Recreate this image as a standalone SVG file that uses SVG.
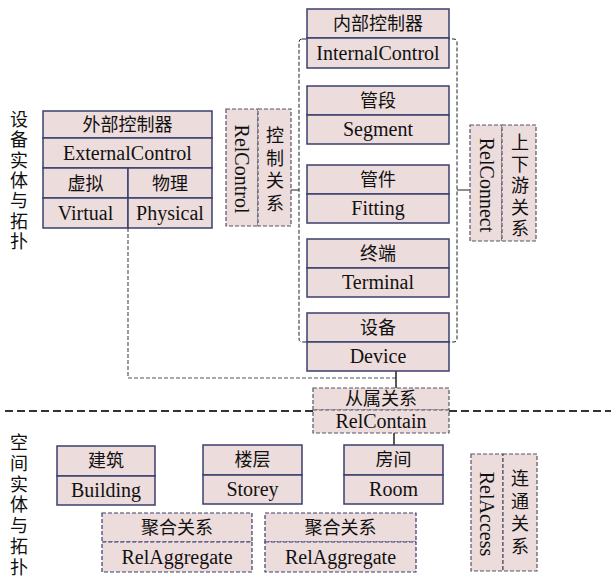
<svg xmlns="http://www.w3.org/2000/svg" width="611" height="579" viewBox="0 0 611 579">
<style>
.n{fill:#EDDCDC;stroke:#3A3F6E;stroke-width:1.5}
.d{fill:#EDDCDC;stroke:#555566;stroke-width:1.2;stroke-dasharray:4 2}
.dl{fill:none;stroke:#555566;stroke-width:1.2;stroke-dasharray:4 2}
.t{font-family:"Liberation Serif","Noto Sans CJK SC",serif;font-size:20px;fill:#111;text-anchor:middle}
.c{font-family:"Noto Sans CJK SC","Liberation Serif",sans-serif;font-size:18px;fill:#111;text-anchor:middle}
</style>
<rect width="611" height="579" fill="#fff"/>
<g id="connectors">
<rect x="299" y="39" width="158" height="303" rx="3" fill="none" stroke="#222" stroke-width="1" stroke-dasharray="4 2"/>
<path d="M128 228V378H396" class="dl"/>
<line x1="291" y1="190" x2="299" y2="190" stroke="#222" stroke-width="1"/>
<line x1="457" y1="190" x2="470" y2="190" stroke="#222" stroke-width="1"/>
<line x1="396" y1="371" x2="396" y2="388" stroke="#222" stroke-width="1.5"/>
<line x1="394" y1="433" x2="394" y2="445" stroke="#222" stroke-width="1.5"/>
<line x1="5" y1="411" x2="611" y2="411" stroke="#333" stroke-width="1.8" stroke-dasharray="8 4"/>
</g>
<g id="label-top">
<text class="c" x="19" y="126">设</text>
<text class="c" x="19" y="146.3">备</text>
<text class="c" x="19" y="166.6">实</text>
<text class="c" x="19" y="186.9">体</text>
<text class="c" x="19" y="207.2">与</text>
<text class="c" x="19" y="227.5">拓</text>
<text class="c" x="19" y="247.8">扑</text>
</g>
<g id="label-bottom">
<text class="c" x="19" y="449">空</text>
<text class="c" x="19" y="469.8">间</text>
<text class="c" x="19" y="490.6">实</text>
<text class="c" x="19" y="511.4">体</text>
<text class="c" x="19" y="532.2">与</text>
<text class="c" x="19" y="553">拓</text>
<text class="c" x="19" y="573.8">扑</text>
</g>
<g id="externalcontrol">
<rect class="n" x="43" y="111" width="169" height="27"/>
<rect class="n" x="43" y="138" width="169" height="30"/>
<rect class="n" x="43" y="168" width="85" height="30"/>
<rect class="n" x="128" y="168" width="84" height="30"/>
<rect class="n" x="43" y="198" width="85" height="30"/>
<rect class="n" x="128" y="198" width="84" height="30"/>
<text class="c" x="127.5" y="131">外部控制器</text>
<text class="t" x="127.5" y="160">ExternalControl</text>
<text class="c" x="85.5" y="190">虚拟</text>
<text class="c" x="170" y="190">物理</text>
<text class="t" x="85.5" y="220">Virtual</text>
<text class="t" x="170" y="220">Physical</text>
</g>
<g id="relcontrol">
<rect class="d" x="226" y="109" width="32" height="117"/>
<rect class="d" x="258" y="109" width="33" height="117"/>
<text class="t" transform="rotate(90 242 169)" x="242" y="176">RelControl</text>
<text class="c" x="275" y="142">控</text>
<text class="c" x="275" y="164.7">制</text>
<text class="c" x="275" y="187.4">关</text>
<text class="c" x="275" y="210.1">系</text>
</g>
<g id="internalcontrol">
<rect class="n" x="307" y="9" width="142" height="29"/>
<rect class="n" x="307" y="38" width="142" height="30"/>
<text class="c" x="378" y="30">内部控制器</text>
<text class="t" x="378" y="60">InternalControl</text>
</g>
<g id="segment">
<rect class="n" x="307" y="86" width="142" height="29"/>
<rect class="n" x="307" y="115" width="142" height="29"/>
<text class="c" x="378" y="107">管段</text>
<text class="t" x="378" y="136">Segment</text>
</g>
<g id="fitting">
<rect class="n" x="307" y="165" width="142" height="29"/>
<rect class="n" x="307" y="194" width="142" height="29"/>
<text class="c" x="378" y="186">管件</text>
<text class="t" x="378" y="215">Fitting</text>
</g>
<g id="terminal">
<rect class="n" x="307" y="239" width="142" height="29"/>
<rect class="n" x="307" y="268" width="142" height="29"/>
<text class="c" x="378" y="260">终端</text>
<text class="t" x="378" y="289">Terminal</text>
</g>
<g id="device">
<rect class="n" x="307" y="313" width="142" height="29"/>
<rect class="n" x="307" y="342" width="142" height="29"/>
<text class="c" x="378" y="334">设备</text>
<text class="t" x="378" y="363">Device</text>
</g>
<g id="relconnect">
<rect class="d" x="470" y="125" width="32" height="116"/>
<rect class="d" x="502" y="125" width="34" height="116"/>
<text class="t" transform="rotate(90 487 185)" x="487" y="192">RelConnect</text>
<text class="c" x="520" y="149">上</text>
<text class="c" x="520" y="170.5">下</text>
<text class="c" x="520" y="192">游</text>
<text class="c" x="520" y="213.5">关</text>
<text class="c" x="520" y="235">系</text>
</g>
<g id="relcontain">
<rect class="d" x="313" y="388" width="136" height="22"/>
<rect class="d" x="313" y="410" width="136" height="23"/>
<text class="c" x="381" y="405">从属关系</text>
<text class="t" x="381" y="428">RelContain</text>
</g>
<g id="building">
<rect class="n" x="57" y="446" width="98" height="30"/>
<rect class="n" x="57" y="476" width="98" height="29"/>
<text class="c" x="106" y="467">建筑</text>
<text class="t" x="106" y="497">Building</text>
</g>
<g id="storey">
<rect class="n" x="203" y="445" width="99" height="30"/>
<rect class="n" x="203" y="475" width="99" height="29"/>
<text class="c" x="252.5" y="466">楼层</text>
<text class="t" x="252.5" y="496">Storey</text>
</g>
<g id="room">
<rect class="n" x="344" y="445" width="99" height="30"/>
<rect class="n" x="344" y="475" width="99" height="29"/>
<text class="c" x="393.5" y="466">房间</text>
<text class="t" x="393.5" y="496">Room</text>
</g>
<g id="relaggregate1">
<rect class="d" x="102" y="513" width="150" height="29" style="stroke:#3A3F6E"/>
<rect class="d" x="102" y="542" width="150" height="30" style="stroke:#3A3F6E"/>
<text class="c" x="177" y="534">聚合关系</text>
<text class="t" x="177" y="564">RelAggregate</text>
</g>
<g id="relaggregate2">
<rect class="d" x="265" y="513" width="151" height="29" style="stroke:#3A3F6E"/>
<rect class="d" x="265" y="542" width="151" height="30" style="stroke:#3A3F6E"/>
<text class="c" x="340.5" y="534">聚合关系</text>
<text class="t" x="340.5" y="564">RelAggregate</text>
</g>
<g id="relaccess">
<rect class="d" x="471" y="454" width="32" height="117"/>
<rect class="d" x="503" y="454" width="34" height="117"/>
<text class="t" transform="rotate(90 487 514)" x="487" y="521">RelAccess</text>
<text class="c" x="520" y="485">连</text>
<text class="c" x="520" y="507.5">通</text>
<text class="c" x="520" y="530">关</text>
<text class="c" x="520" y="552.5">系</text>
</g>
</svg>
